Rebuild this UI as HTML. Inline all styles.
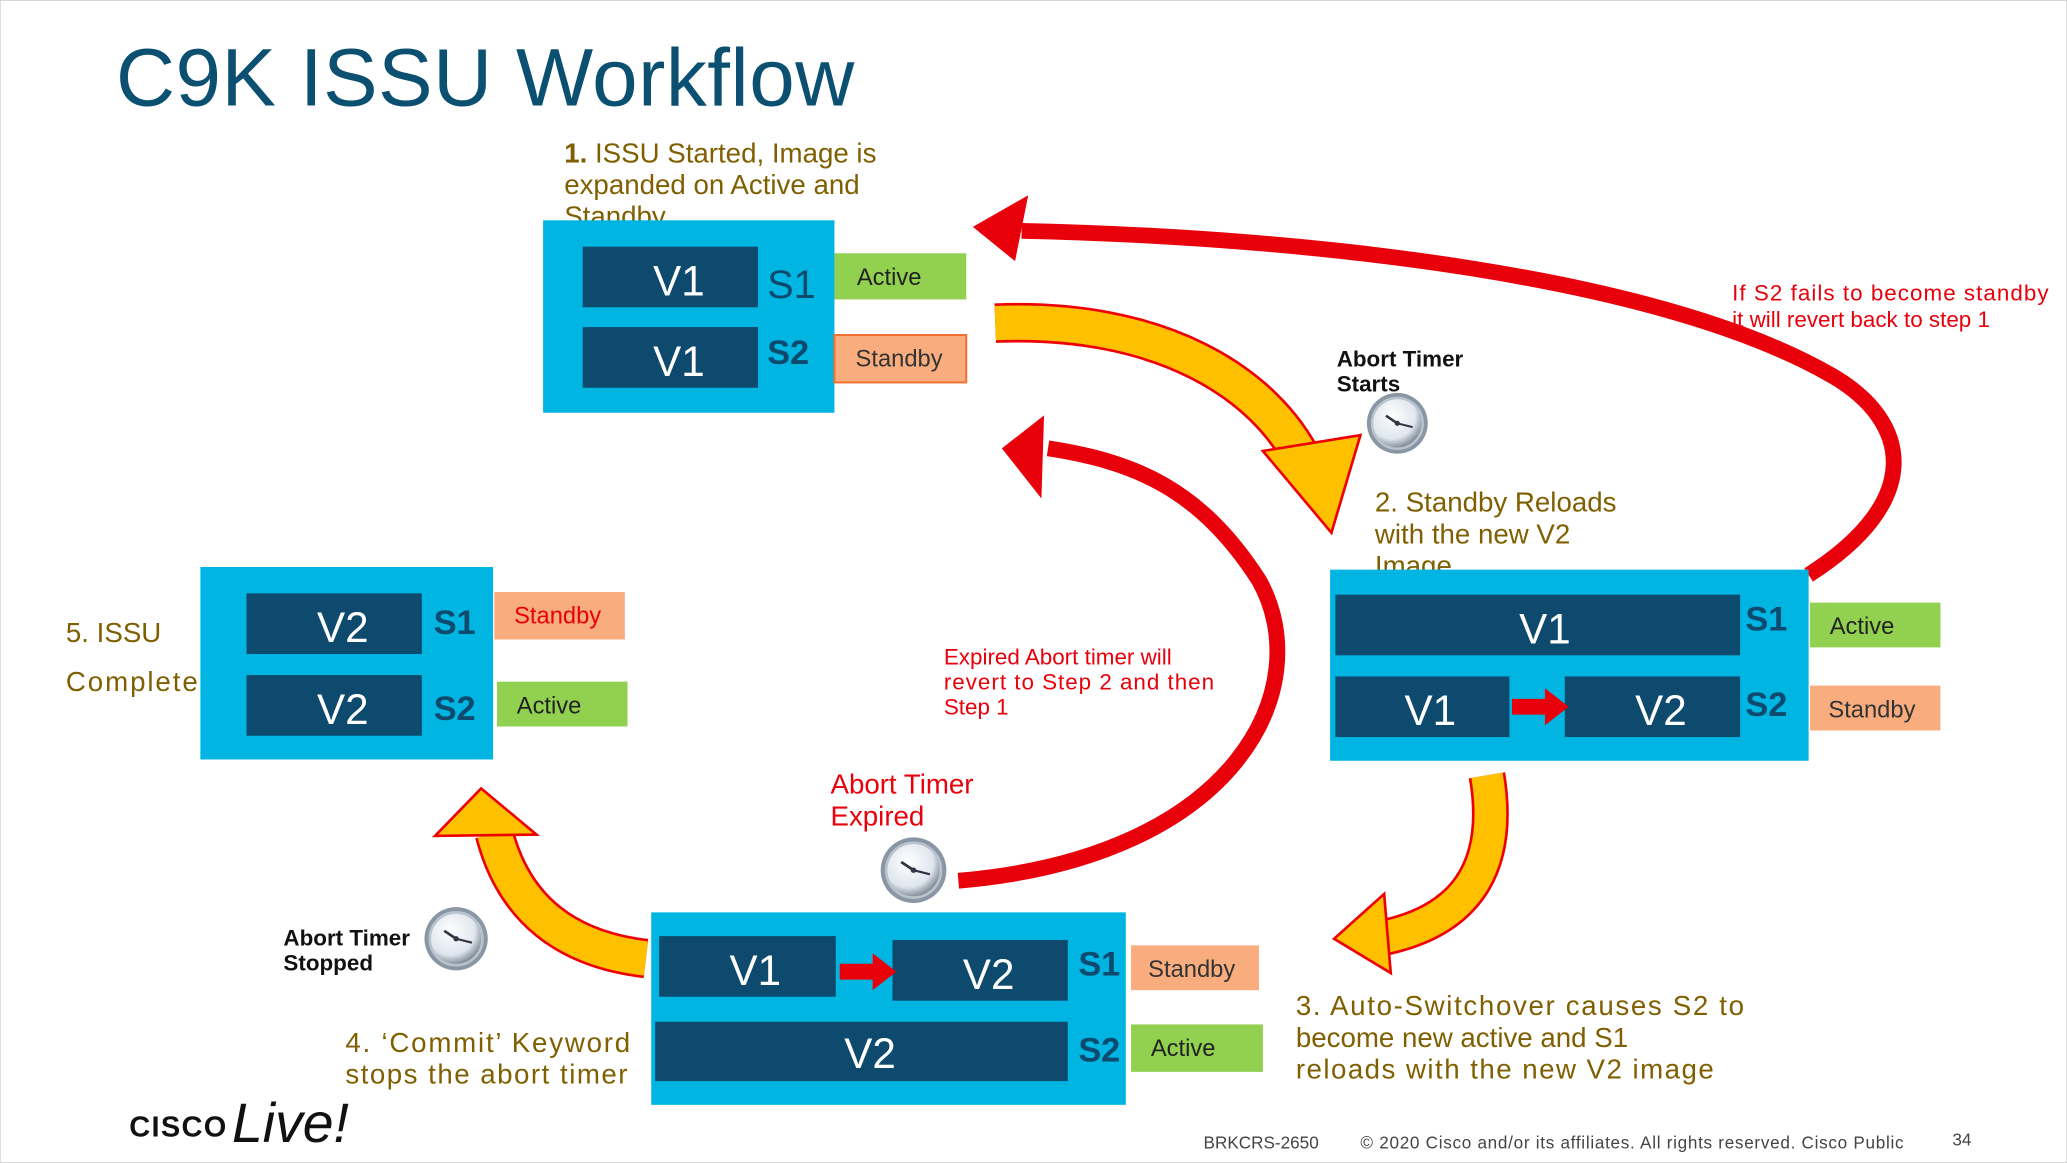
<!DOCTYPE html>
<html><head><meta charset="utf-8"><style>
html,body{margin:0;padding:0;background:#fff;}
svg{display:block;}
text{font-family:"Liberation Sans",sans-serif;}
</style></head><body>
<svg width="2067" height="1163" viewBox="0 0 1568 882" xmlns="http://www.w3.org/2000/svg">
<defs>
<radialGradient id="clk" cx="40%" cy="35%" r="65%"><stop offset="0" stop-color="#ffffff"/><stop offset="0.7" stop-color="#dfe6ee"/><stop offset="1" stop-color="#7f8a96"/></radialGradient>
<symbol id="clock" viewBox="-26 -26 52 52"><circle r="24" fill="#8a96a4"/><circle r="20" fill="url(#clk)" stroke="#b9c3cd" stroke-width="2"/><line x1="0" y1="0" x2="-9" y2="-6" stroke="#334" stroke-width="2"/><line x1="0" y1="0" x2="12" y2="3" stroke="#334" stroke-width="1.6"/><circle r="2" fill="#334"/></symbol>
</defs>
<rect x="0" y="0" width="1568" height="882" fill="#fff" stroke="#ccc"/>
<text x="88" y="80" font-size="62" fill="#0b4f71" textLength="560">C9K ISSU Workflow</text>

<!-- Red arrow top -->
<path d="M1372,436 C1460,380 1450,320 1390,285 C1260,210 1000,180 775,175" fill="none" stroke="#e8000b" stroke-width="12"/>
<polygon points="738,172 780,148 770,198" fill="#e8000b"/>
<!-- Red arrow middle -->
<path d="M727,668 C940,650 1000,520 955,440 C910,370 860,350 795,340" fill="none" stroke="#e8000b" stroke-width="12"/>
<polygon points="760,340 792,315 790,378" fill="#e8000b"/>

<!-- Yellow arrows -->
<g stroke-linejoin="miter">
<path d="M755,245 C880,240 960,290 990,352" fill="none" stroke="#e00" stroke-width="30"/>
<path d="M755,245 C880,240 960,290 990,352" fill="none" stroke="#ffc000" stroke-width="26"/>
<polygon points="958,342 1032,330 1010,404" fill="#ffc000" stroke="#e00" stroke-width="2"/>

<path d="M1128,588 C1140,660 1110,700 1045,712" fill="none" stroke="#e00" stroke-width="28"/>
<path d="M1128,588 C1140,660 1110,700 1045,712" fill="none" stroke="#ffc000" stroke-width="24"/>
<polygon points="1050,678 1012,712 1055,738" fill="#ffc000" stroke="#e00" stroke-width="2"/>

<path d="M490,727 C430,720 390,690 375,632" fill="none" stroke="#e00" stroke-width="30"/>
<path d="M490,727 C430,720 390,690 375,632" fill="none" stroke="#ffc000" stroke-width="26"/>
<polygon points="330,634 365,598 407,633" fill="#ffc000" stroke="#e00" stroke-width="2"/>
</g>

<!-- Box 1 -->
<text font-size="21" fill="#7f5f00"><tspan x="428" y="123"><tspan font-weight="bold">1.</tspan> ISSU Started, Image is</tspan><tspan x="428" y="147">expanded on Active and</tspan><tspan x="428" y="171">Standby</tspan></text>
<rect x="412" y="167" width="221" height="146" fill="#00b5e2"/>
<rect x="442" y="187" width="133" height="46" fill="#0d4a6e"/>
<rect x="442" y="248" width="133" height="46" fill="#0d4a6e"/>
<text x="515" y="224" font-size="32" fill="#fff" text-anchor="middle">V1</text>
<text x="515" y="285" font-size="32" fill="#fff" text-anchor="middle">V1</text>
<text x="582" y="226" font-size="30" fill="#0d4a6e">S1</text>
<text x="582" y="276" font-size="26" font-weight="bold" fill="#0d4a6e">S2</text>
<rect x="633" y="192" width="100" height="35" fill="#92d050"/>
<text x="650" y="216" font-size="18" fill="#222">Active</text>
<rect x="633" y="254" width="100" height="36" fill="#f9ac7e" stroke="#f07030" stroke-width="1.5"/>
<text x="649" y="278" font-size="18" fill="#333">Standby</text>

<!-- Box 2 -->
<text x="1014" y="278" font-size="17" font-weight="bold" fill="#111">Abort Timer</text>
<text x="1014" y="297" font-size="17" font-weight="bold" fill="#111">Starts</text>
<use href="#clock" x="1035" y="296" width="50" height="50"/>
<text font-size="21" fill="#7f5f00"><tspan x="1043" y="388">2. Standby Reloads</tspan><tspan x="1043" y="412">with the new V2</tspan><tspan x="1043" y="436">Image</tspan></text>
<rect x="1009" y="432" width="363" height="145" fill="#00b5e2"/>
<rect x="1013" y="451" width="307" height="46" fill="#0d4a6e"/>
<rect x="1013" y="513" width="132" height="46" fill="#0d4a6e"/>
<rect x="1187" y="513" width="133" height="46" fill="#0d4a6e"/>
<text x="1172" y="488" font-size="32" fill="#fff" text-anchor="middle">V1</text>
<text x="1085" y="550" font-size="32" fill="#fff" text-anchor="middle">V1</text>
<text x="1260" y="550" font-size="32" fill="#fff" text-anchor="middle">V2</text>
<polygon points="1147,530 1172,530 1172,522 1190,536 1172,550 1172,542 1147,542" fill="#e8000b"/>
<text x="1324" y="478" font-size="26" font-weight="bold" fill="#0d4a6e">S1</text>
<text x="1324" y="543" font-size="26" font-weight="bold" fill="#0d4a6e">S2</text>
<rect x="1373" y="457" width="99" height="34" fill="#92d050"/>
<text x="1388" y="481" font-size="18" fill="#222">Active</text>
<rect x="1373" y="520" width="99" height="34" fill="#f9ac7e"/>
<text x="1387" y="544" font-size="18" fill="#333">Standby</text>
<text x="1314" y="228" font-size="17" fill="#e8000b" textLength="240">If S2 fails to become standby</text>
<text x="1314" y="248" font-size="17" fill="#e8000b">it will revert back to step 1</text>

<!-- Box 3 -->
<text font-size="21" fill="#7f5f00"><tspan x="983" y="770" textLength="340">3. Auto-Switchover causes S2 to</tspan><tspan x="983" y="794">become new active and S1</tspan><tspan x="983" y="818" textLength="317">reloads with the new V2 image</tspan></text>
<text x="630" y="602" font-size="21" fill="#e8000b">Abort Timer</text>
<text x="630" y="626" font-size="21" fill="#e8000b">Expired</text>
<use href="#clock" x="666" y="633" width="54" height="54"/>
<text font-size="17" fill="#e8000b"><tspan x="716" y="504">Expired Abort timer will</tspan><tspan x="716" y="523" textLength="205">revert to Step 2 and then</tspan><tspan x="716" y="542">Step 1</tspan></text>
<rect x="494" y="692" width="360" height="146" fill="#00b5e2"/>
<rect x="500" y="710" width="134" height="46" fill="#0d4a6e"/>
<rect x="677" y="713" width="133" height="46" fill="#0d4a6e"/>
<rect x="497" y="775" width="313" height="45" fill="#0d4a6e"/>
<text x="573" y="747" font-size="32" fill="#fff" text-anchor="middle">V1</text>
<text x="750" y="750" font-size="32" fill="#fff" text-anchor="middle">V2</text>
<text x="660" y="810" font-size="32" fill="#fff" text-anchor="middle">V2</text>
<polygon points="637,731 662,731 662,723 680,737 662,751 662,743 637,743" fill="#e8000b"/>
<text x="818" y="740" font-size="26" font-weight="bold" fill="#0d4a6e">S1</text>
<text x="818" y="805" font-size="26" font-weight="bold" fill="#0d4a6e">S2</text>
<rect x="858" y="717" width="97" height="34" fill="#f9ac7e"/>
<text x="871" y="741" font-size="18" fill="#333">Standby</text>
<rect x="858" y="777" width="100" height="36" fill="#92d050"/>
<text x="873" y="801" font-size="18" fill="#222">Active</text>

<!-- Step 4 -->
<text x="215" y="717" font-size="17" font-weight="bold" fill="#111">Abort Timer</text>
<text x="215" y="736" font-size="17" font-weight="bold" fill="#111">Stopped</text>
<use href="#clock" x="320" y="686" width="52" height="52"/>
<text x="262" y="798" font-size="21" fill="#7f5f00" textLength="216">4. ‘Commit’ Keyword</text>
<text x="262" y="822" font-size="21" fill="#7f5f00" textLength="214">stops the abort timer</text>

<!-- Box 5 -->
<text x="50" y="487" font-size="21" fill="#7f5f00">5. ISSU</text>
<text x="50" y="524" font-size="21" fill="#7f5f00" textLength="100">Complete</text>
<rect x="152" y="430" width="222" height="146" fill="#00b5e2"/>
<rect x="187" y="450" width="133" height="46" fill="#0d4a6e"/>
<rect x="187" y="512" width="133" height="46" fill="#0d4a6e"/>
<text x="260" y="487" font-size="32" fill="#fff" text-anchor="middle">V2</text>
<text x="260" y="549" font-size="32" fill="#fff" text-anchor="middle">V2</text>
<text x="329" y="481" font-size="26" font-weight="bold" fill="#0d4a6e">S1</text>
<text x="329" y="546" font-size="26" font-weight="bold" fill="#0d4a6e">S2</text>
<rect x="375" y="449" width="99" height="36" fill="#f9ac7e"/>
<text x="390" y="473" font-size="18" fill="#e8000b">Standby</text>
<rect x="377" y="517" width="99" height="34" fill="#92d050"/>
<text x="392" y="541" font-size="18" fill="#222">Active</text>

<!-- Footer -->
<text x="98" y="862" font-size="22" font-weight="bold" fill="#111" letter-spacing="1">CISCO</text>
<text x="176" y="866" font-size="42" font-style="italic" font-family="Liberation Serif" fill="#111">Live!</text>
<text x="913" y="871" font-size="13" fill="#444">BRKCRS-2650</text>
<text x="1032" y="871" font-size="13" fill="#444" textLength="412">© 2020  Cisco and/or its affiliates. All rights reserved.   Cisco Public</text>
<text x="1481" y="869" font-size="13" fill="#444">34</text>
</svg>
</body></html>
